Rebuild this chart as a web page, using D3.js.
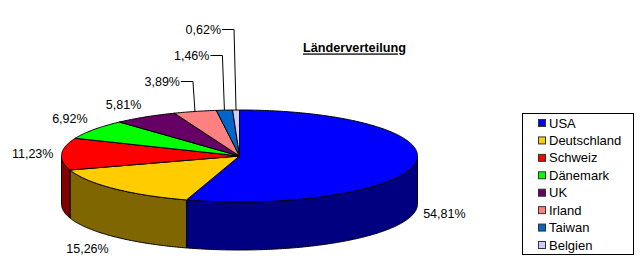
<!DOCTYPE html>
<html><head><meta charset="utf-8">
<script src="https://cdn.jsdelivr.net/npm/d3@7"></script>
<style>body{margin:0;background:#fff}svg{display:block}text{font-family:"Liberation Sans",Arial,sans-serif;fill:#000}</style>
</head><body>
<svg id="c" width="640" height="280"></svg>
<script>
const categories = ["USA","Deutschland","Schweiz","Dänemark","UK","Irland","Taiwan","Belgien"];
const values = [54.81,15.26,11.23,6.92,5.81,3.89,1.46,0.62];
const topColors = ["#0000FF","#FFCC00","#FF0000","#00FF00","#660066","#FF8080","#0066CC","#CCCCFF"];
const title = "Länderverteilung";

const svg = d3.select("#c");
const cx = 239.5, cy = 156, rx = 178, ry = 46, depth = 48;
const pt = (t, dy = 0) => [cx + rx * Math.sin(t), cy - ry * Math.cos(t) + dy];

const pie = d3.pie().sort(null).value(d => d)(values);
const color = d3.scaleOrdinal().domain(categories).range(topColors);
const sideColor = c => { const r = d3.rgb(c); return d3.rgb(r.r * 0.5, r.g * 0.5, r.b * 0.5).formatHex(); };
const line = d3.line();
const sample = (a, b) => { const n = Math.max(2, Math.ceil((b - a) / 0.01)); return d3.range(n + 1).map(i => a + (b - a) * i / n); };

// walls (front half)
const gW = svg.append("g");
pie.forEach((s, i) => {
  const a = Math.max(s.startAngle, Math.PI / 2), b = Math.min(s.endAngle, 3 * Math.PI / 2);
  if (b <= a) return;
  const ts = sample(a, b);
  const pts = ts.map(t => pt(t)).concat(ts.slice().reverse().map(t => pt(t, depth)));
  gW.append("path").attr("d", line(pts) + "Z")
    .attr("fill", sideColor(color(categories[i]))).attr("stroke", "#000").attr("stroke-width", 1).attr("stroke-linejoin", "round");
});
// tops
const gT = svg.append("g");
pie.forEach((s, i) => {
  const pts = [[cx, cy]].concat(sample(s.startAngle, s.endAngle).map(t => pt(t)));
  gT.append("path").attr("d", line(pts) + "Z")
    .attr("fill", color(categories[i])).attr("stroke", "#000").attr("stroke-width", 1).attr("stroke-linejoin", "round");
});

// labels
const loc = d3.formatLocale({decimal: ",", thousands: ".", grouping: [3], currency: ["", "€"]});
const fmt = v => loc.format(".2f")(v) + "%";
const gL = svg.append("g").attr("font-size", 12.5);
const clamp = v => Math.max(-1, Math.min(1, v));
pie.forEach((s, i) => {
  const t = (s.startAngle + s.endAngle) / 2;
  const txt = fmt(values[i]);
  if (values[i] >= 5) {
    const sn = Math.sin(t), cs = Math.cos(t);
    const px = cx + (rx + 8) * sn, py = cy - (ry + 8) * cs + (cs < 0 ? depth : 0);
    const hw = txt.length * 3.5, hh = 6;
    gL.append("text").attr("x", px + hw * clamp(sn * 2)).attr("y", py - hh * clamp(cs * 2))
      .attr("text-anchor", "middle").attr("dy", "0.35em").text(txt);
  }
});
// leader labels for small slices (stacked upward)
const small = pie.map((s, i) => ({s, i})).filter(d => values[d.i] < 5);
small.forEach((d, j) => {
  const t = (d.s.startAngle + d.s.endAngle) / 2;
  const [ax, ay] = pt(t);
  const ly = 81.5 - j * 26;
  gL.append("path").attr("d", line([[ax - 14, ly], [ax - 2, ly], [ax, ay]]))
    .attr("fill", "none").attr("stroke", "#000").attr("stroke-width", 1);
  gL.append("text").attr("x", ax - 15).attr("y", ly).attr("text-anchor", "end").attr("dy", "0.35em").text(fmt(values[d.i]));
});

// title
svg.append("text").attr("x", 303).attr("y", 48).attr("dy", "0.35em").attr("font-size", 12.7)
  .attr("font-weight", "bold").style("text-decoration", "underline").text(title);

// legend
const lg = svg.append("g");
lg.append("rect").attr("x", 522.5).attr("y", 113.5).attr("width", 111).attr("height", 141)
  .attr("fill", "#fff").attr("stroke", "#000");
const ly = d3.scalePoint().domain(categories).range([123, 245]);
categories.forEach(c => {
  lg.append("rect").attr("x", 538.5).attr("y", ly(c) - 3.5).attr("width", 7).attr("height", 7)
    .attr("fill", color(c)).attr("stroke", "#333").attr("stroke-width", 1);
  lg.append("text").attr("x", 549).attr("y", ly(c)).attr("dy", "0.35em").attr("font-size", 13).text(c);
});
</script>
</body></html>
